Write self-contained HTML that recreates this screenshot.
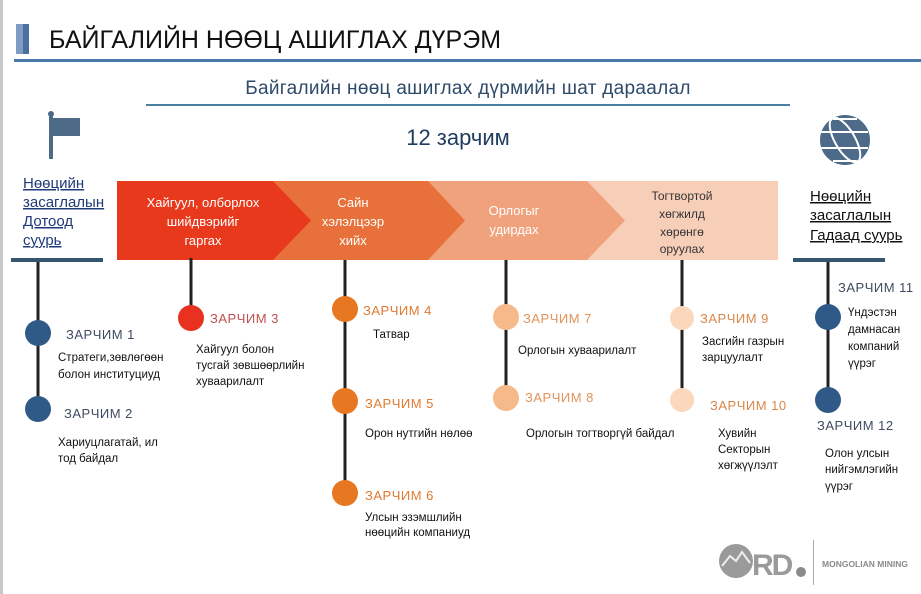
<!DOCTYPE html>
<html><head><meta charset="utf-8">
<style>
html,body{margin:0;padding:0;background:#fff;}
svg{display:block;font-family:"Liberation Sans","DejaVu Sans",sans-serif;}
</style></head>
<body>
<svg width="921" height="594" viewBox="0 0 921 594" xmlns="http://www.w3.org/2000/svg">
<rect width="921" height="594" fill="#fff"/>
<rect x="0" y="0" width="3" height="594" fill="#c8c8c8"/>
<!-- title -->
<rect x="16" y="24" width="7" height="30" fill="#7f9cc4"/>
<rect x="23" y="24" width="6" height="30" fill="#4a6fa0"/>
<text x="49" y="48" font-size="25" fill="#111">БАЙГАЛИЙН НӨӨЦ АШИГЛАХ ДҮРЭМ</text>
<rect x="14" y="59" width="907" height="3" fill="#4a76a8"/>
<text x="468" y="94" font-size="19" fill="#2e4a6a" text-anchor="middle" letter-spacing="0.3">Байгалийн нөөц ашиглах дүрмийн шат дараалал</text>
<rect x="146" y="104" width="644" height="2" fill="#4c7fa0"/>
<text x="458" y="145" font-size="22" fill="#1f3b5e" text-anchor="middle">12 зарчим</text>
<!-- flag -->
<rect x="49" y="114" width="4" height="45" fill="#4d6a88"/>
<circle cx="51" cy="114" r="3" fill="#4d6a88"/>
<rect x="53" y="118" width="27" height="18" fill="#4d6a88"/>
<!-- globe -->
<circle cx="845" cy="140" r="25" fill="#4d6a88"/>
<g stroke="#fff" stroke-width="2" fill="none">
<ellipse cx="845" cy="140" rx="10" ry="25" transform="rotate(-30 845 140)"/>
<line x1="821" y1="132" x2="868" y2="132"/>
<line x1="821" y1="148" x2="868" y2="148"/>
<line x1="833" y1="119" x2="857" y2="119"/>
<line x1="833" y1="161" x2="857" y2="161"/>
</g>
<!-- chevron band -->
<rect x="117" y="181" width="661" height="79" fill="#f7cfb9"/>
<polygon points="117,181 587,181 625,220.5 587,260 117,260" fill="#f0a27c"/>
<polygon points="117,181 428,181 465,220.5 428,260 117,260" fill="#e8703a"/>
<polygon points="117,181 273,181 311,220.5 273,260 117,260" fill="#e8391c"/>
<g font-size="13" fill="#fff" text-anchor="middle">
<text x="203" y="207">Хайгуул, олборлох</text>
<text x="203" y="226">шийдвэрийг</text>
<text x="203" y="245">гаргах</text>
<text x="353" y="207">Сайн</text>
<text x="353" y="226">хэлэлцээр</text>
<text x="353" y="245">хийх</text>
<text x="514" y="215">Орлогыг</text>
<text x="514" y="234">удирдах</text>
</g>
<g font-size="12" fill="#333" text-anchor="middle">
<text x="682" y="200">Тогтвортой</text>
<text x="682" y="218">хөгжилд</text>
<text x="682" y="236">хөрөнгө</text>
<text x="682" y="253">оруулах</text>
</g>
<!-- side labels -->
<g font-size="15" fill="#1f3b7a" text-decoration="underline">
<text x="23" y="188">Нөөцийн</text>
<text x="23" y="207">засаглалын</text>
<text x="23" y="226">Дотоод</text>
<text x="23" y="245">суурь</text>
</g>
<g font-size="15" fill="#111" text-decoration="underline">
<text x="810" y="201">Нөөцийн</text>
<text x="810" y="220">засаглалын</text>
<text x="810" y="240">Гадаад  суурь</text>
</g>
<rect x="11" y="258" width="92" height="4" fill="#34566e"/>
<rect x="793" y="258" width="92" height="4" fill="#34566e"/>
<!-- vertical lines -->
<g stroke="#222" stroke-width="3">
<line x1="38" y1="262" x2="38" y2="409"/>
<line x1="191" y1="258" x2="191" y2="318"/>
<line x1="345" y1="260" x2="345" y2="493"/>
<line x1="506" y1="260" x2="506" y2="398"/>
<line x1="682" y1="260" x2="682" y2="400"/>
<line x1="828" y1="262" x2="828" y2="400"/>
</g>
<!-- circles -->
<g>
<circle cx="38" cy="333" r="13" fill="#2f5a87"/>
<circle cx="38" cy="409" r="13" fill="#2f5a87"/>
<circle cx="191" cy="318" r="13" fill="#e8311e"/>
<circle cx="345" cy="309" r="13" fill="#e87722"/>
<circle cx="345" cy="401" r="13" fill="#e87722"/>
<circle cx="345" cy="493" r="13" fill="#e87722"/>
<circle cx="506" cy="317" r="13" fill="#f6b98a"/>
<circle cx="506" cy="398" r="13" fill="#f6b98a"/>
<circle cx="682" cy="318" r="12" fill="#fbd8bc"/>
<circle cx="682" cy="400" r="12" fill="#fbd8bc"/>
<circle cx="828" cy="317" r="13" fill="#2f5a87"/>
<circle cx="828" cy="400" r="13" fill="#2f5a87"/>
</g>
<!-- principle labels -->
<g font-size="13" letter-spacing="0.5">
<text x="66" y="339" fill="#3e4b60">ЗАРЧИМ  1</text>
<text x="64" y="418" fill="#3e4b60">ЗАРЧИМ  2</text>
<text x="210" y="323" fill="#c0504d">ЗАРЧИМ  3</text>
<text x="363" y="315" fill="#e07a30">ЗАРЧИМ  4</text>
<text x="365" y="408" fill="#e07a30">ЗАРЧИМ  5</text>
<text x="365" y="500" fill="#e07a30">ЗАРЧИМ  6</text>
<text x="523" y="323" fill="#e0935a">ЗАРЧИМ  7</text>
<text x="525" y="402" fill="#e0935a">ЗАРЧИМ  8</text>
<text x="700" y="323" fill="#d8874a">ЗАРЧИМ  9</text>
<text x="710" y="410" fill="#d8874a">ЗАРЧИМ  10</text>
<text x="838" y="292" fill="#3e4b60">ЗАРЧИМ  11</text>
<text x="817" y="430" fill="#3e4b60">ЗАРЧИМ  12</text>
</g>
<g font-size="11.5" fill="#111">
<text x="58" y="361">Стратеги,зөвлөгөөн</text>
<text x="58" y="378">болон  институциуд</text>
<text x="58" y="446">Хариуцлагатай, ил</text>
<text x="58" y="462">тод  байдал</text>
<text x="196" y="353">Хайгуул болон</text>
<text x="196" y="369">тусгай зөвшөөрлийн</text>
<text x="196" y="385">хуваарилалт</text>
<text x="373" y="338">Татвар</text>
<text x="365" y="437">Орон  нутгийн нөлөө</text>
<text x="365" y="521">Улсын эзэмшлийн</text>
<text x="365" y="536">нөөцийн компаниуд</text>
<text x="518" y="354">Орлогын хуваарилалт</text>
<text x="526" y="437">Орлогын тогтворгүй байдал</text>
<text x="702" y="345">Засгийн газрын</text>
<text x="702" y="361">зарцуулалт</text>
<text x="718" y="437">Хувийн</text>
<text x="718" y="453">Секторын</text>
<text x="718" y="469">хөгжүүлэлт</text>
<text x="848" y="316">Үндэстэн</text>
<text x="848" y="333">дамнасан</text>
<text x="848" y="350">компаний</text>
<text x="848" y="367">үүрэг</text>
<text x="825" y="457">Олон улсын</text>
<text x="825" y="473">нийгэмлэгийн</text>
<text x="825" y="490">үүрэг</text>
</g>
<!-- logo -->
<circle cx="736" cy="561" r="17" fill="#9a9a9a"/>
<polyline points="722,566 730,556 736,561 742,552 750,563" fill="none" stroke="#eee" stroke-width="2"/>
<text x="752" y="575" font-size="30" font-weight="bold" fill="#9a9a9a" letter-spacing="-2">RD</text>
<circle cx="801" cy="572" r="5" fill="#8a8a8a"/>
<rect x="813" y="540" width="1" height="45" fill="#aaa"/>
<text x="822" y="567" font-size="8.5" font-weight="bold" fill="#8a8a8a">MONGOLIAN MINING</text>
</svg>
</body></html>
